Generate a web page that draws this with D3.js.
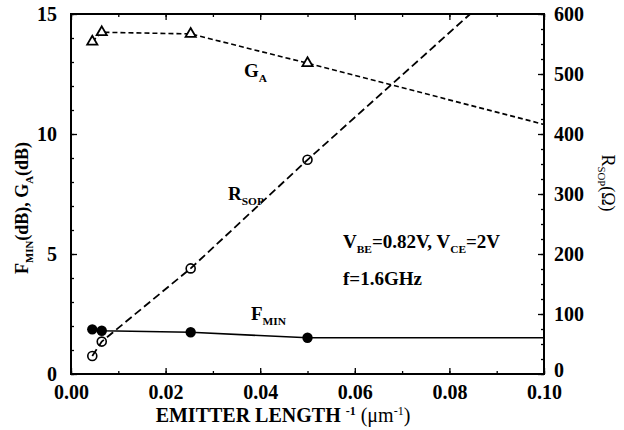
<!DOCTYPE html>
<html>
<head>
<meta charset="utf-8">
<script src="https://cdn.jsdelivr.net/npm/d3@7"></script>
<style>
  body { margin: 0; background: #fff; }
  svg text { font-family: "Liberation Serif", "Times New Roman", serif; font-weight: bold; fill: #000; }
</style>
</head>
<body>
<svg id="chart" width="624" height="430"></svg>
<script>
"use strict";

// measured points (emitter length^-1, um^-1)
const xMeas = [0.0045, 0.0065, 0.0253, 0.0500];
const gaVals = [13.85, 14.24, 14.17, 12.95];      // dB, left axis
const rsopVals = [30, 54, 176, 357];               // ohm, right axis
const fminVals = [1.86, 1.80, 1.74, 1.51];         // dB, left axis

// where the fitted lines run out to
const gaEnd = [0.10, 10.4];
const rsopEnd = [0.0844, 600];
const fminEnd = [0.10, 1.51];

const xTicks = [0, 0.02, 0.04, 0.06, 0.08, 0.10];
const leftTicks = [0, 5, 10, 15];
const rightTicks = [0, 100, 200, 300, 400, 500, 600];

let svg = d3.select('svg#chart');
let plot = { left: 71, right: 544, top: 14, bottom: 374 };

let x = d3.scaleLinear().domain([0, 0.10]).range([plot.left, plot.right]);
let yL = d3.scaleLinear().domain([0, 15]).range([plot.bottom, plot.top]);
let yR = d3.scaleLinear().domain([0, 600]).range([plot.bottom, plot.top]);

/* minor ticks first */
let minorX = d3.range(0, 0.1001, 0.01);
let minorL = d3.range(0, 15.01, 1);
let minorR = d3.range(0, 600.1, 25);

function addAxis(axis, tx, ty) {
  let g = svg.append('g')
    .attr('transform', `translate(${tx},${ty})`)
    .call(axis);
  g.select('.domain').remove();
  g.selectAll('line').attr('stroke', '#000').attr('stroke-width', 1.3);
  g.selectAll('text').style('font-size', '20px').style('font-family', '"Liberation Serif", serif').style('font-weight', 'bold');
  return g;
}

addAxis(d3.axisBottom(x).tickValues(minorX).tickSize(-3).tickFormat(''), 0, plot.bottom);
addAxis(d3.axisTop(x).tickValues(minorX).tickSize(-3).tickFormat(''), 0, plot.top);
addAxis(d3.axisLeft(yL).tickValues(minorL).tickSize(-3).tickFormat(''), plot.left, 0);
addAxis(d3.axisRight(yR).tickValues(minorR).tickSize(-3).tickFormat(''), plot.right, 0);

/* major ticks with labels */
let gx = addAxis(d3.axisBottom(x).tickValues(xTicks).tickSize(-6).tickPadding(10).tickFormat(d3.format('.2f')), 0, plot.bottom);
gx.selectAll('text').attr('dy', '0.75em');
addAxis(d3.axisTop(x).tickValues(xTicks).tickSize(-6).tickFormat(''), 0, plot.top);
let gl = addAxis(d3.axisLeft(yL).tickValues(leftTicks).tickSize(-6).tickPadding(14), plot.left, 0);
let gr = addAxis(d3.axisRight(yR).tickValues(rightTicks).tickSize(-6).tickPadding(10), plot.right, 0);
gr.selectAll('text').filter(d => d === 0).attr('dy', '0.1em');

/* frame */
svg.append('rect')
  .attr('x', plot.left).attr('y', plot.top)
  .attr('width', plot.right - plot.left).attr('height', plot.bottom - plot.top)
  .attr('fill', 'none').attr('stroke', '#000').attr('stroke-width', 2);

/* lines */
let lineL = d3.line().x(d => x(d[0])).y(d => yL(d[1]));
let lineR = d3.line().x(d => x(d[0])).y(d => yR(d[1]));

let gaLine = xMeas.map((d, i) => [d, gaVals[i]]).concat([gaEnd]);
let rsopLine = xMeas.map((d, i) => [d, rsopVals[i]]).concat([rsopEnd]);
let fminLine = xMeas.map((d, i) => [d, fminVals[i]]).concat([fminEnd]);

svg.append('path').attr('d', lineL(gaLine))
  .attr('fill', 'none').attr('stroke', '#000').attr('stroke-width', 1.6)
  .attr('stroke-dasharray', '5,3');
svg.append('path').attr('d', lineR(rsopLine))
  .attr('fill', 'none').attr('stroke', '#000').attr('stroke-width', 1.8)
  .attr('stroke-dasharray', '8,4');
svg.append('path').attr('d', lineL(fminLine))
  .attr('fill', 'none').attr('stroke', '#000').attr('stroke-width', 1.6);

/* markers */
let tri = d3.symbol().type(d3.symbolTriangle).size(45);
svg.selectAll('path.ga-pt')
  .data(xMeas.map((d, i) => [d, gaVals[i]]))
  .enter().append('path')
  .attr('class', 'ga-pt')
  .attr('d', tri)
  .attr('transform', d => `translate(${x(d[0])},${yL(d[1])})`)
  .attr('fill', '#fff').attr('stroke', '#000').attr('stroke-width', 1.8);

svg.selectAll('circle.rsop-pt')
  .data(xMeas.map((d, i) => [d, rsopVals[i]]))
  .enter().append('circle')
  .attr('class', 'rsop-pt')
  .attr('cx', d => x(d[0])).attr('cy', d => yR(d[1])).attr('r', 4.5)
  .attr('fill', 'none').attr('stroke', '#000').attr('stroke-width', 1.6);

svg.selectAll('circle.fmin-pt')
  .data(xMeas.map((d, i) => [d, fminVals[i]]))
  .enter().append('circle')
  .attr('class', 'fmin-pt')
  .attr('cx', d => x(d[0])).attr('cy', d => yL(d[1])).attr('r', 5.2)
  .attr('fill', '#000');

/* text with subscripts: a part is {t} for normal text or {sub} for subscript */
function subText(parent, parts, size) {
  let t = parent.append('text').style('font-size', `${size}px`);
  let shift = 0;
  parts.forEach(p => {
    let s = t.append('tspan');
    if (p.sub) {
      s.attr('dy', `${0.25 * size}px`).style('font-size', `${size * 0.6}px`).text(p.sub);
      shift = 0.25 * size;
    } else {
      if (shift) s.attr('dy', `${-shift}px`);
      s.text(p.t);
      shift = 0;
    }
  });
  return t;
}

subText(svg, [{t: 'G'}, {sub: 'A'}], 19).attr('x', 244).attr('y', 77);
subText(svg, [{t: 'R'}, {sub: 'SOP'}], 19).attr('x', 228).attr('y', 200);
subText(svg, [{t: 'F'}, {sub: 'MIN'}], 19).attr('x', 251).attr('y', 320);
subText(svg, [{t: 'V'}, {sub: 'BE'}, {t: '=0.82V, V'}, {sub: 'CE'}, {t: '=2V'}], 19).attr('x', 343).attr('y', 248);
subText(svg, [{t: 'f=1.6GHz'}], 19).attr('x', 343).attr('y', 285);

/* axis titles */
subText(svg, [{t: 'F'}, {sub: 'MIN'}, {t: '(dB), G'}, {sub: 'A'}, {t: '(dB)'}], 18)
  .attr('text-anchor', 'middle')
  .attr('transform', 'translate(28,208) rotate(-90)');

subText(svg, [{t: 'R'}, {sub: 'SOP'}, {t: '(\u03a9)'}], 18)
  .attr('text-anchor', 'middle')
  .style('font-weight', 'normal')
  .attr('transform', 'translate(602,183) rotate(90)');

let xt = svg.append('text').style('font-size', '20px')
  .attr('text-anchor', 'middle').attr('x', 283).attr('y', 422);
xt.append('tspan').text('EMITTER LENGTH ');
xt.append('tspan').attr('dy', '-7px').style('font-size', '12px').text('-1');
xt.append('tspan').attr('dy', '7px').style('font-weight', 'normal').text(' (\u03bcm');
xt.append('tspan').attr('dy', '-7px').style('font-size', '12px').style('font-weight', 'normal').text('-1');
xt.append('tspan').attr('dy', '7px').style('font-weight', 'normal').text(')');
</script>
</body>
</html>
